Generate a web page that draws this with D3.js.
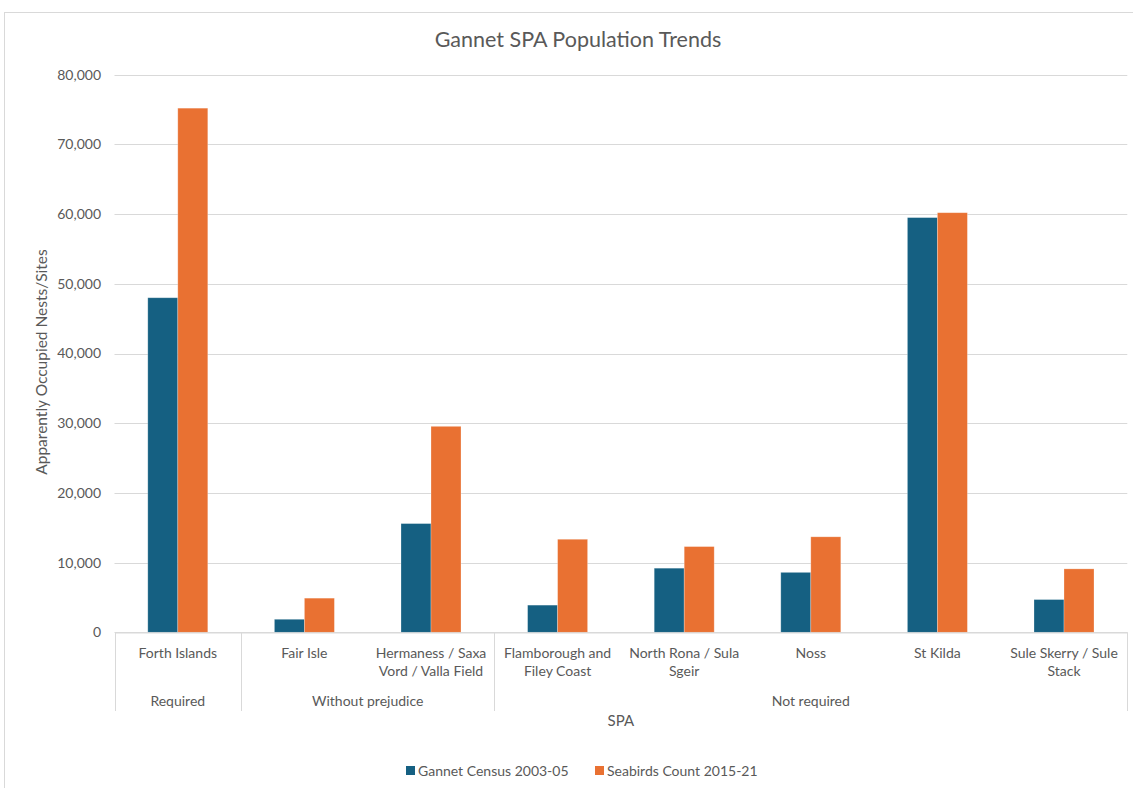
<!DOCTYPE html>
<html>
<head>
<meta charset="utf-8">
<script src="https://cdn.jsdelivr.net/npm/d3@7"></script>
<style>
  html, body { margin: 0; padding: 0; background: #fff; }
  svg { display: block; }
  text { font-family: Lato, "Open Sans", sans-serif; fill: #595959; }
</style>
</head>
<body>
<svg id="chart" width="1133" height="788"></svg>
<script>
// Sites (first line / second line of the label), their group, and nest counts
const categories = [
  ["Forth Islands"],
  ["Fair Isle"],
  ["Hermaness / Saxa", "Vord / Valla Field"],
  ["Flamborough and", "Filey Coast"],
  ["North Rona / Sula", "Sgeir"],
  ["Noss"],
  ["St Kilda"],
  ["Sule Skerry / Sule", "Stack"]
];
const groups = ["Required", "Without prejudice", "Without prejudice", "Not required",
                "Not required", "Not required", "Not required", "Not required"];
const seriesNames = ["Gannet Census 2003-05", "Seabirds Count 2015-21"];
const gannetCensus = [48000, 1870, 15600, 3900, 9200, 8600, 59500, 4700];
const seabirdsCount = [75200, 4900, 29550, 13350, 12300, 13700, 60200, 9100];
const yTicks = [0, 10000, 20000, 30000, 40000, 50000, 60000, 70000, 80000];

const colors = ["#156082", "#E97132"];
const svg = d3.select("#chart");

// Chart border
svg.append("rect")
  .attr("x", 4.5).attr("y", 12.5).attr("width", 1160).attr("height", 820)
  .attr("fill", "none").attr("stroke", "#d9d9d9");

const plot = { left: 114.5, right: 1127.3, top: 74.7, bottom: 632.3 };

const x0 = d3.scaleBand()
  .domain(d3.range(categories.length))
  .range([plot.left, plot.right])
  .padding(0);
const bw = x0.bandwidth();
const barW = 30;
const x1 = d3.scaleBand()
  .domain([0, 1])
  .range([(bw - 2 * barW) / 2, (bw + 2 * barW) / 2])
  .padding(0);

const y = d3.scaleLinear().domain([0, 80000]).range([plot.bottom, plot.top]);

// Gridlines
svg.append("g")
  .selectAll("line")
  .data(yTicks)
  .join("line")
  .attr("x1", plot.left).attr("x2", plot.right)
  .attr("y1", d => Math.round(y(d)) + 0.5).attr("y2", d => Math.round(y(d)) + 0.5)
  .attr("stroke", "#d9d9d9").attr("stroke-width", 1);

// Y axis labels
const yAxis = d3.axisLeft(y).tickValues(yTicks).tickFormat(d3.format(",")).tickSize(0).tickPadding(0);
const yg = svg.append("g").attr("transform", `translate(${101},0)`).call(yAxis);
yg.select(".domain").remove();
yg.selectAll("text").style("font-size", "14px").attr("fill", "#595959");

// Bars
const rows = categories.map((c, i) => [gannetCensus[i], seabirdsCount[i]]);
const cat = svg.append("g").selectAll("g")
  .data(rows)
  .join("g")
  .attr("transform", (d, i) => `translate(${x0(i)},0)`);
cat.selectAll("rect")
  .data(d => d.map((v, s) => ({ v, s })))
  .join("rect")
  .attr("x", d => x1(d.s))
  .attr("width", x1.bandwidth())
  .attr("y", d => y(d.v))
  .attr("height", d => y(0) - y(d.v))
  .attr("fill", d => colors[d.s])
  .attr("stroke", "#ffffff").attr("stroke-opacity", 0.35).attr("stroke-width", 0.75);

// Multi-level category axis
const axisBottom = 711;
const catAxis = d3.axisBottom(x0).tickSize(0).tickFormat("");
const cg = svg.append("g").attr("transform", `translate(0,${Math.round(plot.bottom) + 0.5})`).call(catAxis);
cg.select(".domain").attr("stroke", "#d9d9d9");

// Category labels
categories.forEach((lines, i) => {
  const t = svg.append("text")
    .attr("x", x0(i) + bw / 2)
    .attr("y", 658)
    .attr("text-anchor", "middle")
    .style("font-size", "14px");
  lines.forEach((ln, k) => {
    t.append("tspan").attr("x", x0(i) + bw / 2).attr("dy", k === 0 ? 0 : 18).text(ln);
  });
});

// Group spans
const spans = [];
groups.forEach((g, i) => {
  const last = spans[spans.length - 1];
  if (last && last.name === g) last.end = i;
  else spans.push({ name: g, start: i, end: i });
});
const boundaries = [plot.left].concat(spans.map(s => x0(s.end) + bw));
svg.append("g").selectAll("line")
  .data(boundaries)
  .join("line")
  .attr("x1", d => Math.round(d) + 0.5).attr("x2", d => Math.round(d) + 0.5)
  .attr("y1", plot.bottom).attr("y2", axisBottom)
  .attr("stroke", "#d9d9d9");
svg.append("g").selectAll("text")
  .data(spans)
  .join("text")
  .attr("x", d => (x0(d.start) + x0(d.end) + bw) / 2)
  .attr("y", 706)
  .attr("text-anchor", "middle")
  .style("font-size", "14px")
  .text(d => d.name);

// Axis titles
svg.append("text")
  .attr("x", (plot.left + plot.right) / 2).attr("y", 726)
  .attr("text-anchor", "middle").style("font-size", "15px").text("SPA");
svg.append("text")
  .attr("transform", `translate(47,362) rotate(-90)`)
  .attr("text-anchor", "middle").style("font-size", "15.5px")
  .text("Apparently Occupied Nests/Sites");

// Title
svg.append("text")
  .attr("x", 578).attr("y", 47)
  .attr("text-anchor", "middle").style("font-size", "21.5px")
  .text("Gannet SPA Population Trends");

// Legend
const legend = svg.append("g").attr("transform", "translate(406,776)");
const legendX = [0, 189];
seriesNames.forEach((name, i) => {
  const g = legend.append("g").attr("transform", `translate(${legendX[i]},0)`);
  g.append("rect").attr("x", 0).attr("y", -10).attr("width", 9).attr("height", 9).attr("fill", colors[i]);
  g.append("text").attr("x", 12).attr("y", 0).style("font-size", "14px").text(name);
});
</script>
</body>
</html>
